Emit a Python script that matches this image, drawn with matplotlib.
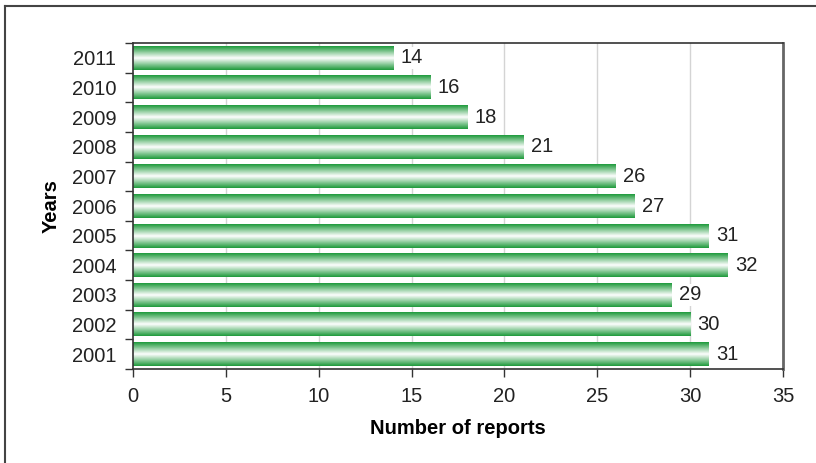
import numpy as np
import matplotlib.pyplot as plt
from matplotlib.colors import LinearSegmentedColormap
from matplotlib.lines import Line2D

plt.rcParams['font.family'] = ['Liberation Sans', 'DejaVu Sans']

years = ['2001', '2002', '2003', '2004', '2005', '2006',
         '2007', '2008', '2009', '2010', '2011']
reports = [31, 30, 29, 32, 31, 27, 26, 21, 18, 16, 14]

# green -> white -> green shading across each bar
shade = LinearSegmentedColormap.from_list(
    'shade', [(0.0, '#1f9a3c'), (0.5, '#ffffff'), (1.0, '#1f9a3c')])
grad = np.linspace(0, 1, 64).reshape(-1, 1)

fig = plt.figure(figsize=(8.16, 4.63), dpi=100)
ax = fig.add_axes([0.163, 0.203, 0.7967, 0.704])

bar_h = 0.8
pos = np.arange(len(years))
for y, v in zip(pos, reports):
    ax.imshow(grad, cmap=shade, aspect='auto', interpolation='bilinear',
              extent=(0, v, y - bar_h / 2, y + bar_h / 2), zorder=2)
    ax.text(v + 0.4, y, str(v), va='center', ha='left', fontsize=14.5,
            color='#222222', zorder=3,
            bbox=dict(facecolor='white', edgecolor='none', pad=1))

ax.set_xlim(0, 35)
ax.set_ylim(-0.5, len(years) - 0.5)
ax.set_xticks(range(0, 36, 5))
ax.set_yticks(pos)
ax.set_yticklabels(years)
ax.set_yticks(np.arange(-0.5, len(years), 1), minor=True)

ax.tick_params(axis='x', direction='out', length=6, width=1, labelsize=14.5,
               color='#333333', labelcolor='#222222', pad=7)
ax.tick_params(axis='y', which='major', length=0, labelsize=14.5,
               labelcolor='#222222', pad=12)
ax.tick_params(axis='y', which='minor', direction='out', length=6, width=1,
               color='#333333')

for x in range(5, 35, 5):
    ax.axvline(x, color='#d4d4d4', lw=1, zorder=1)

for s in ['left', 'bottom', 'top']:
    ax.spines[s].set_color('#333333')
    ax.spines[s].set_linewidth(1.2)
ax.spines['right'].set_color('#666666')
ax.spines['right'].set_linewidth(2)

ax.set_xlabel('Number of reports', fontsize=14.5, fontweight='bold', labelpad=9)
ax.set_ylabel('Years', fontsize=14.5, fontweight='bold', labelpad=8)

# frame lines around the figure (top and left edges)
fig.add_artist(Line2D([5 / 816, 1.0], [1 - 6 / 463, 1 - 6 / 463],
                      transform=fig.transFigure, color='#444444', lw=1.5))
fig.add_artist(Line2D([5 / 816, 5 / 816], [0.0, 1 - 6 / 463],
                      transform=fig.transFigure, color='#444444', lw=1.5))

fig.savefig('out.png', dpi=100)
